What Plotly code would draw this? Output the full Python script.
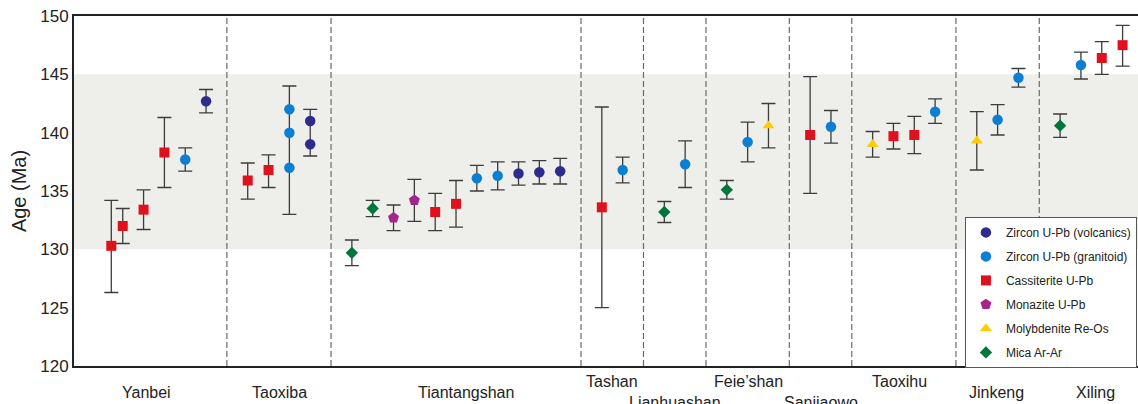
import plotly.graph_objects as go

# ---- Geochronology data: one entry per dated sample ----
# slot position along the x axis, dating method, age (Ma) and the
# lower/upper ends of the uncertainty bar (None where the bar is shared)
slot = [0.45, 1, 2, 3, 4, 5,
        7, 8, 9, 9, 9, 10, 10,
        12, 13, 14, 15, 16, 17, 18, 19, 20, 21, 22,
        24, 25,
        27, 28,
        30, 31, 32,
        34, 35,
        37, 38, 39, 40,
        42, 43, 44,
        46, 47, 48, 49]
method = ["cas", "cas", "cas", "cas", "gra", "vol",
          "cas", "cas", "gra", "gra", "gra", "vol", "vol",
          "mic", "mic", "mon", "mon", "cas", "cas", "gra", "gra", "vol", "vol", "vol",
          "cas", "gra",
          "mic", "gra",
          "mic", "gra", "mol",
          "cas", "gra",
          "mol", "cas", "cas", "gra",
          "mol", "gra", "gra",
          "mic", "gra", "cas", "cas"]
age = [130.3, 132.0, 133.4, 138.3, 137.7, 142.7,
       135.9, 136.8, 142.0, 140.0, 137.0, 141.0, 139.0,
       129.7, 133.5, 132.7, 134.2, 133.2, 133.9, 136.1, 136.3, 136.5, 136.6, 136.7,
       133.6, 136.8,
       133.2, 137.3,
       135.1, 139.2, 140.6,
       139.8, 140.5,
       139.0, 139.7, 139.8, 141.8,
       139.3, 141.1, 144.7,
       140.6, 145.8, 146.4, 147.5]
age_low = [126.3, 130.5, 131.7, 135.3, 136.7, 141.7,
           134.3, 135.3, 133.0, None, None, 138.0, None,
           128.6, 132.8, 131.6, 132.4, 131.6, 131.9, 135.0, 135.1, 135.5, 135.6, 135.6,
           125.0, 135.7,
           132.3, 135.3,
           134.3, 137.5, 138.7,
           134.8, 139.1,
           137.9, 138.6, 138.2, 140.8,
           136.8, 139.8, 143.9,
           139.6, 144.6, 145.0, 145.7]
age_high = [134.2, 133.5, 135.1, 141.3, 138.7, 143.7,
            137.4, 138.1, 144.0, None, None, 142.0, None,
            130.8, 134.2, 133.8, 136.0, 134.8, 135.9, 137.2, 137.5, 137.5, 137.6, 137.8,
            142.2, 137.9,
            134.1, 139.3,
            135.9, 140.9, 142.5,
            144.8, 141.9,
            140.1, 140.8, 141.4, 142.9,
            141.8, 142.4, 145.5,
            141.6, 146.9, 147.8, 149.2]

# deposits, their label positions and label rows, and the dividers between them
deposits = ["Yanbei", "Taoxiba", "Tiantangshan", "Tashan", "Lianhuashan",
            "Feie\u2019shan", "Sanjiaowo", "Taoxihu", "Jinkeng", "Xiling"]
deposit_label_slot = [2.15, 8.52, 17.48, 24.47, 27.5, 31.05, 34.51, 38.31, 42.96, 47.68]
deposit_label_row = [1, 1, 1, 0, 2, 0, 2, 0, 1, 1]
divider_slot = [6, 11, 23, 26, 29, 33, 36, 41, 45]

# main magmatic-mineralisation window
band_low, band_high = 130, 145

methods = [
    ("vol", "Zircon U-Pb (volcanics)", "circle", "#2D2B8E", 10.5),
    ("gra", "Zircon U-Pb (granitoid)", "circle", "#0B7FD4", 10.5),
    ("cas", "Cassiterite U-Pb", "square", "#E0111C", 10),
    ("mon", "Monazite U-Pb", "pentagon", "#A3268D", 11.5),
    ("mol", "Molybdenite Re-Os", "triangle-up", "#FFCC00", 10.5),
    ("mic", "Mica Ar-Ar", "diamond", "#00773A", 9.5),
]

FONT = "Liberation Sans, Arial, sans-serif"
fig = go.Figure()

# uncertainty bars (drawn first so that the symbols sit on top)
bar_x, bar_mid, bar_half = [], [], []
for s, lo, hi in zip(slot, age_low, age_high):
    if lo is None:
        continue
    bar_x.append(s)
    bar_mid.append((lo + hi) / 2)
    bar_half.append((hi - lo) / 2)
fig.add_trace(go.Scatter(
    x=bar_x, y=bar_mid, mode="markers",
    marker=dict(size=1, opacity=0),
    error_y=dict(type="data", array=bar_half, symmetric=True,
                 color="#3C3C3C", thickness=1.3, width=7),
    showlegend=False, hoverinfo="skip"))

for key, name, symbol, color, size in methods:
    xs = [s for s, m in zip(slot, method) if m == key]
    ys = [a for a, m in zip(age, method) if m == key]
    fig.add_trace(go.Scatter(
        x=xs, y=ys, mode="markers", name=name, legendgroup=key,
        marker=dict(symbol=symbol, size=size, color=color, line=dict(width=0))))

shapes = [dict(type="rect", xref="paper", yref="y", x0=0, x1=1,
               y0=band_low, y1=band_high, fillcolor="#EEEEEB",
               line=dict(width=0), layer="below")]
for d in divider_slot:
    shapes.append(dict(type="line", xref="x", yref="paper", x0=d, x1=d, y0=0, y1=1,
                       line=dict(color="#6A6A6A", width=1.2, dash="6px,3px"),
                       layer="below"))

row_shift = {0: -15, 1: -26, 2: -36}
annotations = []
for name, xs, row in zip(deposits, deposit_label_slot, deposit_label_row):
    annotations.append(dict(x=xs, y=0, xref="x", yref="paper", text=name,
                            showarrow=False, xanchor="center", yanchor="middle",
                            yshift=row_shift[row],
                            font=dict(family=FONT, size=16, color="#222222")))

fig.update_layout(
    width=1138, height=404,
    margin=dict(l=74, r=0, t=16, b=38),
    paper_bgcolor="white", plot_bgcolor="white",
    font=dict(family=FONT, color="#222222"),
    shapes=shapes, annotations=annotations,
    xaxis=dict(range=[-1.34, 49.74], showticklabels=False, ticks="",
               showgrid=False, zeroline=False, showline=True, mirror=True,
               linecolor="#222222", linewidth=2),
    yaxis=dict(range=[120, 150], dtick=5, ticks="", showgrid=False,
               zeroline=False, showline=True, linecolor="#222222", linewidth=2,
               tickfont=dict(size=17, color="#222222"),
               title=dict(text="Age (Ma)", font=dict(size=20, color="#222222"),
                          standoff=8)),
    legend=dict(x=0.999, y=0.426, xanchor="right", yanchor="top",
                bgcolor="white", bordercolor="#555555", borderwidth=1,
                font=dict(family=FONT, size=12, color="#222222"),
                tracegroupgap=5),
    showlegend=True,
)

fig.write_html("out.html")
